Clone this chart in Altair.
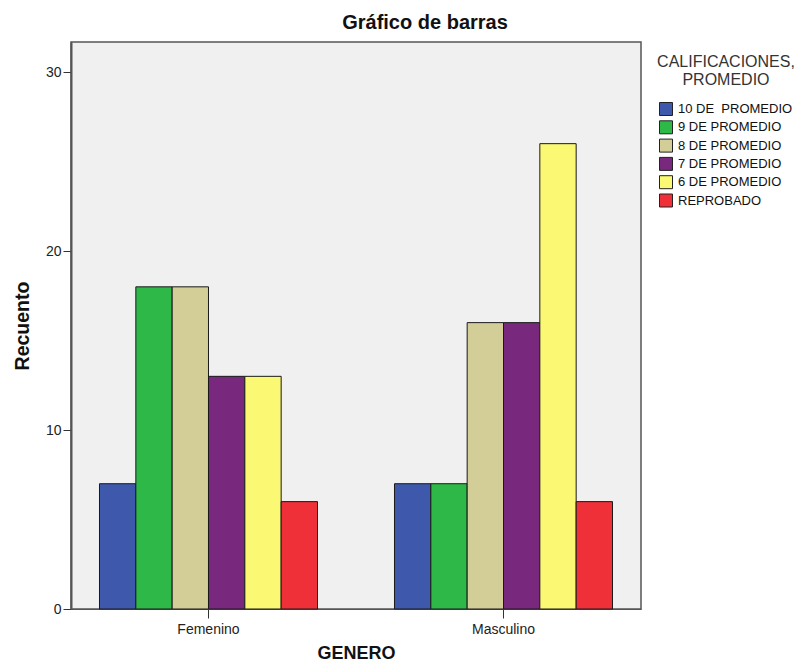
import altair as alt
import pandas as pd

generos = ["Femenino", "Masculino"]
categorias = ["10 DE\u00a0 PROMEDIO", "9 DE PROMEDIO", "8 DE PROMEDIO",
              "7 DE PROMEDIO", "6 DE PROMEDIO", "REPROBADO"]
femenino = [7, 18, 18, 13, 13, 6]
masculino = [7, 7, 16, 16, 26, 6]
colores = ["#3E58AC", "#2EB848", "#D3CE97", "#78287D", "#FBF873", "#EF3038"]

rows = []
for g, vals in zip(generos, [femenino, masculino]):
    for c, v in zip(categorias, vals):
        rows.append({"GENERO": g, "cal": c, "Recuento": v})
df = pd.DataFrame(rows)

FONT = "Liberation Sans"

chart = alt.Chart(df).mark_bar(stroke="#1a1a1a", strokeWidth=1).encode(
    x=alt.X("GENERO:N", sort=generos,
            scale=alt.Scale(paddingInner=0.261, paddingOuter=0.0966),
            axis=alt.Axis(title="GENERO", labelAngle=0, tickSize=9, labelPadding=4,
                          titlePadding=8, labelFontSize=14, titleFontSize=18,
                          titleFontWeight="bold", domainColor="#555555", tickColor="#333333",
                          labelColor="#222222", titleColor="#111111")),
    xOffset=alt.XOffset("cal:N", sort=categorias,
                        scale=alt.Scale(paddingInner=0, paddingOuter=0)),
    y=alt.Y("Recuento:Q", scale=alt.Scale(domain=[0, 31.68], nice=False),
            axis=alt.Axis(title="Recuento", values=[0, 10, 20, 30], grid=False,
                          tickSize=8, labelPadding=2, titlePadding=13,
                          labelFontSize=14, titleFontSize=19.5, titleFontWeight="bold",
                          domainColor="#555555", domainWidth=2, tickColor="#333333",
                          labelColor="#222222", titleColor="#111111")),
    color=alt.Color("cal:N", sort=categorias,
                    scale=alt.Scale(domain=categorias, range=colores),
                    legend=alt.Legend(title=["CALIFICACIONES,", "PROMEDIO"],
                                      orient="none", legendX=586, legendY=12,
                                      titleAnchor="middle", titleAlign="center",
                                      titleFontSize=16, titleFontWeight="normal",
                                      titleColor="#333333", titleLineHeight=18,
                                      titlePadding=14,
                                      labelFontSize=13, labelColor="#111111",
                                      symbolType="square", symbolSize=169,
                                      symbolStrokeColor="#222222", symbolStrokeWidth=1,
                                      symbolOpacity=1, rowPadding=0.3, labelOffset=5)),
).properties(
    width=570, height=567,
    autosize=alt.AutoSizeParams(type="none"),
    padding={"left": 63, "top": 34, "right": 157, "bottom": 54},
    title=alt.TitleParams("Gráfico de barras", fontSize=20, fontWeight="bold",
                          font=FONT, anchor="middle", dx=69, offset=9, color="#111111"),
).configure(
    font=FONT
).configure_view(
    fill="#F0F0F0", stroke="#555555", strokeWidth=1.5
)

chart.save("out.html", embed_options={"renderer": "svg", "actions": False})
